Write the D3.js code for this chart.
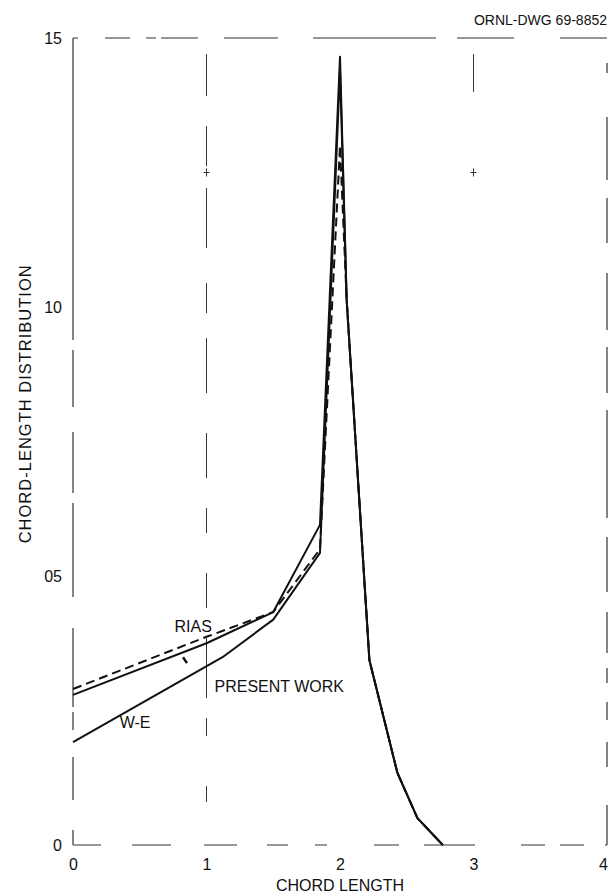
<!DOCTYPE html>
<html>
<head>
<meta charset="utf-8">
<script src="https://cdn.jsdelivr.net/npm/d3@7"></script>
<style>
  html, body { margin: 0; padding: 0; background: #fff; }
  svg { display: block; }
  text { font-family: "Liberation Sans", Arial, sans-serif; fill: #111; }
</style>
</head>
<body>
<div id="chart"></div>
<script>
// ---------------- data ----------------
const xTicks = [0, 1, 2, 3, 4];
const xTickLabels = ["0", "1", "2", "3", "4"];
const yTicks = [0, 0.5, 1.0, 1.5];
const yTickLabels = ["0", "05", "10", "15"];

// PRESENT WORK (solid)
const presentX = [0, 1.0, 1.5, 1.85, 2.0, 2.05, 2.22, 2.43, 2.58, 2.77];
const presentY = [0.279, 0.375, 0.433, 0.595, 1.465, 1.013, 0.344, 0.134, 0.05, 0];
// RIAS (dashed)
const riasX = [0, 1.0, 1.5, 1.85, 2.0, 2.05, 2.22, 2.43, 2.58, 2.77];
const riasY = [0.290, 0.387, 0.433, 0.55, 1.30, 1.013, 0.344, 0.134, 0.05, 0];
// W-E (solid)
const weX = [0, 1.12, 1.5, 1.85, 2.0, 2.05, 2.22, 2.43, 2.58, 2.77];
const weY = [0.191, 0.349, 0.419, 0.543, 1.44, 1.013, 0.344, 0.134, 0.05, 0];

const title = "ORNL-DWG 69-8852";
const xTitle = "CHORD LENGTH";
const yTitle = "CHORD-LENGTH DISTRIBUTION";

// ---------------- layout ----------------
const W = 610, H = 894;
const x = d3.scaleLinear().domain([0, 4]).range([73, 607]);
const y = d3.scaleLinear().domain([0, 1.5]).range([845, 38]);

const svg = d3.select("#chart").append("svg").attr("width", W).attr("height", H);

// frame (broken, as in the scanned drawing)
const frameColor = "#333";
function seg(x0, y0, x1, y1, dash, w) {
  svg.append("line")
    .attr("x1", x(x0)).attr("y1", y(y0)).attr("x2", x(x1)).attr("y2", y(y1))
    .attr("stroke", frameColor).attr("stroke-width", w || 1.2)
    .attr("stroke-dasharray", dash || null);
}
// top (left to right)
seg(0, 1.5, 4, 1.5, "5,27,25,16,10,5,37,26,54,35,123,21,57,46,47");
// bottom
seg(0, 0, 4, 0, "28,31,39,33,33,30,21,27,12,47,25,25,51,46,24,15,24,21,2");
// left (top to bottom)
seg(0, 1.5, 0, 0, "302,10,57,25,61,10,94,31,79,5,18,27,43,30,15");
// right (top to bottom)
seg(4, 1.5, 4, 0, "0,25,10,44,63,18,45,30,57,17,46,17,108,19,55,20,41,15,15,19,18,22,25,38,40");

// grid at x=1 and x=3 (broken)
seg(1, 1.47, 1, 0.08, "42,30,40,22,60,35,30,25,55,40,45,30,25,40,35,30,60,20,18,50", 1);
seg(3, 1.47, 3, 1.40, null, 1);

// small "+" marks at y = 1.25
[1, 3].forEach(v => {
  svg.append("line").attr("x1", x(v) - 3).attr("x2", x(v) + 3)
    .attr("y1", y(1.25)).attr("y2", y(1.25)).attr("stroke", frameColor).attr("stroke-width", 1);
  svg.append("line").attr("x1", x(v)).attr("x2", x(v))
    .attr("y1", y(1.25) - 4).attr("y2", y(1.25) + 4).attr("stroke", frameColor).attr("stroke-width", 1);
});

// axes (labels only)
const xAxis = d3.axisBottom(x).tickValues(xTicks)
  .tickFormat((d, i) => xTickLabels[i]).tickSize(0).tickPadding(14);
const gx = svg.append("g").attr("transform", `translate(0,${y(0)})`).call(xAxis);
gx.select(".domain").remove();
gx.selectAll("text").style("font-size", "16px").style("font-family", '"Liberation Sans", Arial, sans-serif')
  .attr("dx", (d, i) => i === xTicks.length - 1 ? -4 : 0);

const yAxis = d3.axisLeft(y).tickValues(yTicks)
  .tickFormat((d, i) => yTickLabels[i]).tickSize(0).tickPadding(11);
const gy = svg.append("g").attr("transform", `translate(${x(0)},0)`).call(yAxis);
gy.select(".domain").remove();
gy.selectAll("text").style("font-size", "16px").style("font-family", '"Liberation Sans", Arial, sans-serif');

// curves
const line = d3.line().x(d => x(d[0])).y(d => y(d[1]));
function curve(xs, ys, dash) {
  svg.append("path")
    .datum(xs.map((v, i) => [v, ys[i]]))
    .attr("d", line)
    .attr("fill", "none")
    .attr("stroke", "#111")
    .attr("stroke-width", 2)
    .attr("stroke-linejoin", "round")
    .attr("stroke-dasharray", dash || null);
}
curve(weX, weY);
curve(presentX, presentY);
curve(riasX, riasY, "9,5");

// short leader stroke
svg.append("line")
  .attr("x1", x(0.824)).attr("y1", y(0.349)).attr("x2", x(0.854)).attr("y2", y(0.338))
  .attr("stroke", "#111").attr("stroke-width", 2.5);

// labels
svg.append("text").attr("x", x(0.76)).attr("y", y(0.395)).text("RIAS").style("font-size", "16px");
svg.append("text").attr("x", x(1.06)).attr("y", y(0.284)).text("PRESENT WORK").style("font-size", "16px");
svg.append("text").attr("x", x(0.35)).attr("y", y(0.217)).text("W-E").style("font-size", "16px");

svg.append("text").attr("x", 607).attr("y", 25).attr("text-anchor", "end")
  .text(title).style("font-size", "14px");
svg.append("text").attr("x", x(2)).attr("y", 891).attr("text-anchor", "middle")
  .text(xTitle).style("font-size", "16px");
svg.append("text")
  .attr("transform", `translate(31,${y(0.82)}) rotate(-90)`)
  .attr("text-anchor", "middle")
  .text(yTitle).style("font-size", "16.5px").style("letter-spacing", "1px");
</script>
</body>
</html>
